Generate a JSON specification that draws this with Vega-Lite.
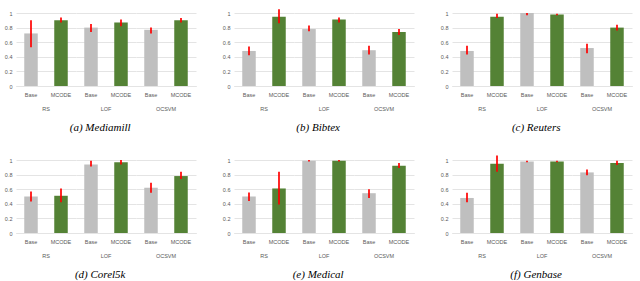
{
  "$schema": "https://vega.github.io/schema/vega-lite/v6.json",
  "padding": {"left": 4, "top": 8, "right": 2, "bottom": 2},
  "background": "white",
  "spacing": 21,
  "datasets": {
    "d": [
      {"ds": "Mediamill", "group": "RS", "method": "Base", "value": 0.72, "lo": 0.53, "hi": 0.90},
      {"ds": "Mediamill", "group": "RS", "method": "MCODE", "value": 0.90, "lo": 0.87, "hi": 0.94},
      {"ds": "Mediamill", "group": "LOF", "method": "Base", "value": 0.80, "lo": 0.74, "hi": 0.85},
      {"ds": "Mediamill", "group": "LOF", "method": "MCODE", "value": 0.87, "lo": 0.82, "hi": 0.91},
      {"ds": "Mediamill", "group": "OCSVM", "method": "Base", "value": 0.77, "lo": 0.72, "hi": 0.80},
      {"ds": "Mediamill", "group": "OCSVM", "method": "MCODE", "value": 0.90, "lo": 0.87, "hi": 0.93},
      {"ds": "Bibtex", "group": "RS", "method": "Base", "value": 0.48, "lo": 0.42, "hi": 0.54},
      {"ds": "Bibtex", "group": "RS", "method": "MCODE", "value": 0.95, "lo": 0.86, "hi": 1.05},
      {"ds": "Bibtex", "group": "LOF", "method": "Base", "value": 0.78, "lo": 0.75, "hi": 0.83},
      {"ds": "Bibtex", "group": "LOF", "method": "MCODE", "value": 0.91, "lo": 0.87, "hi": 0.94},
      {"ds": "Bibtex", "group": "OCSVM", "method": "Base", "value": 0.49, "lo": 0.43, "hi": 0.55},
      {"ds": "Bibtex", "group": "OCSVM", "method": "MCODE", "value": 0.74, "lo": 0.70, "hi": 0.78},
      {"ds": "Reuters", "group": "RS", "method": "Base", "value": 0.48, "lo": 0.43, "hi": 0.55},
      {"ds": "Reuters", "group": "RS", "method": "MCODE", "value": 0.95, "lo": 0.93, "hi": 0.99},
      {"ds": "Reuters", "group": "LOF", "method": "Base", "value": 1.0, "lo": 0.97, "hi": 1.0},
      {"ds": "Reuters", "group": "LOF", "method": "MCODE", "value": 0.98, "lo": 0.97, "hi": 0.99},
      {"ds": "Reuters", "group": "OCSVM", "method": "Base", "value": 0.52, "lo": 0.45, "hi": 0.58},
      {"ds": "Reuters", "group": "OCSVM", "method": "MCODE", "value": 0.80, "lo": 0.76, "hi": 0.84},
      {"ds": "Corel5k", "group": "RS", "method": "Base", "value": 0.50, "lo": 0.43, "hi": 0.57},
      {"ds": "Corel5k", "group": "RS", "method": "MCODE", "value": 0.51, "lo": 0.42, "hi": 0.61},
      {"ds": "Corel5k", "group": "LOF", "method": "Base", "value": 0.94, "lo": 0.91, "hi": 0.99},
      {"ds": "Corel5k", "group": "LOF", "method": "MCODE", "value": 0.97, "lo": 0.94, "hi": 1.0},
      {"ds": "Corel5k", "group": "OCSVM", "method": "Base", "value": 0.62, "lo": 0.55, "hi": 0.69},
      {"ds": "Corel5k", "group": "OCSVM", "method": "MCODE", "value": 0.78, "lo": 0.74, "hi": 0.84},
      {"ds": "Medical", "group": "RS", "method": "Base", "value": 0.50, "lo": 0.44, "hi": 0.555},
      {"ds": "Medical", "group": "RS", "method": "MCODE", "value": 0.61, "lo": 0.39, "hi": 0.84},
      {"ds": "Medical", "group": "LOF", "method": "Base", "value": 0.99, "lo": 0.98, "hi": 1.0},
      {"ds": "Medical", "group": "LOF", "method": "MCODE", "value": 0.99, "lo": 0.98, "hi": 1.0},
      {"ds": "Medical", "group": "OCSVM", "method": "Base", "value": 0.545, "lo": 0.48, "hi": 0.60},
      {"ds": "Medical", "group": "OCSVM", "method": "MCODE", "value": 0.92, "lo": 0.89, "hi": 0.96},
      {"ds": "Genbase", "group": "RS", "method": "Base", "value": 0.48, "lo": 0.42, "hi": 0.55},
      {"ds": "Genbase", "group": "RS", "method": "MCODE", "value": 0.95, "lo": 0.84, "hi": 1.06},
      {"ds": "Genbase", "group": "LOF", "method": "Base", "value": 0.98, "lo": 0.97, "hi": 0.99},
      {"ds": "Genbase", "group": "LOF", "method": "MCODE", "value": 0.98, "lo": 0.97, "hi": 0.99},
      {"ds": "Genbase", "group": "OCSVM", "method": "Base", "value": 0.83, "lo": 0.79, "hi": 0.87},
      {"ds": "Genbase", "group": "OCSVM", "method": "MCODE", "value": 0.96, "lo": 0.93, "hi": 0.99}
    ]
  },
  "config": {
    "view": {"stroke": null},
    "font": "Liberation Sans",
    "title": {"orient": "bottom", "font": "Liberation Serif", "fontSize": 11, "fontWeight": "normal", "fontStyle": "italic", "color": "#000000", "offset": 10, "anchor": "middle"},
    "axis": {"labelFont": "Liberation Sans", "labelFontSize": 5.5, "labelColor": "#595959", "ticks": false, "domain": false, "title": null},
    "axisY": {"tickCount": 5, "gridColor": "#e4e4e4", "labelPadding": 4, "format": "~g"},
    "header": {"labelFont": "Liberation Sans", "labelFontSize": 5.5, "labelColor": "#595959"}
  },
  "vconcat": [
    {
      "spacing": 26,
      "hconcat": [
        {
          "data": {"name": "d"},
          "transform": [{"filter": "datum.ds === 'Mediamill'"}],
          "title": {"text": "(a) Mediamill"},
          "spacing": 0,
          "facet": {"column": {"field": "group", "type": "nominal", "sort": ["RS", "LOF", "OCSVM"], "header": {"title": null, "labelOrient": "bottom", "labelPadding": 9}}},
          "spec": {
            "width": 60, "height": 73,
            "encoding": {"x": {"field": "method", "type": "nominal", "sort": ["Base", "MCODE"], "scale": {"paddingInner": 0, "paddingOuter": 0}, "axis": {"labelAngle": 0, "labelPadding": 6, "domain": true, "domainColor": "#d9d9d9"}}},
            "layer": [
              {"mark": {"type": "bar", "width": {"band": 0.45}}, "encoding": {"y": {"field": "value", "type": "quantitative", "scale": {"domain": [0, 1]}}, "color": {"field": "method", "type": "nominal", "scale": {"domain": ["Base", "MCODE"], "range": ["#bfbfbf", "#548235"]}, "legend": null}}},
              {"mark": {"type": "rule", "color": "#ff0000", "strokeWidth": 1.7}, "encoding": {"y": {"field": "lo", "type": "quantitative"}, "y2": {"field": "hi"}}}
            ]
          }
        },
        {
          "data": {"name": "d"},
          "transform": [{"filter": "datum.ds === 'Bibtex'"}],
          "title": {"text": "(b) Bibtex"},
          "spacing": 0,
          "facet": {"column": {"field": "group", "type": "nominal", "sort": ["RS", "LOF", "OCSVM"], "header": {"title": null, "labelOrient": "bottom", "labelPadding": 9}}},
          "spec": {
            "width": 60, "height": 73,
            "encoding": {"x": {"field": "method", "type": "nominal", "sort": ["Base", "MCODE"], "scale": {"paddingInner": 0, "paddingOuter": 0}, "axis": {"labelAngle": 0, "labelPadding": 6, "domain": true, "domainColor": "#d9d9d9"}}},
            "layer": [
              {"mark": {"type": "bar", "width": {"band": 0.45}}, "encoding": {"y": {"field": "value", "type": "quantitative", "scale": {"domain": [0, 1]}}, "color": {"field": "method", "type": "nominal", "scale": {"domain": ["Base", "MCODE"], "range": ["#bfbfbf", "#548235"]}, "legend": null}}},
              {"mark": {"type": "rule", "color": "#ff0000", "strokeWidth": 1.7}, "encoding": {"y": {"field": "lo", "type": "quantitative"}, "y2": {"field": "hi"}}}
            ]
          }
        },
        {
          "data": {"name": "d"},
          "transform": [{"filter": "datum.ds === 'Reuters'"}],
          "title": {"text": "(c) Reuters"},
          "spacing": 0,
          "facet": {"column": {"field": "group", "type": "nominal", "sort": ["RS", "LOF", "OCSVM"], "header": {"title": null, "labelOrient": "bottom", "labelPadding": 9}}},
          "spec": {
            "width": 60, "height": 73,
            "encoding": {"x": {"field": "method", "type": "nominal", "sort": ["Base", "MCODE"], "scale": {"paddingInner": 0, "paddingOuter": 0}, "axis": {"labelAngle": 0, "labelPadding": 6, "domain": true, "domainColor": "#d9d9d9"}}},
            "layer": [
              {"mark": {"type": "bar", "width": {"band": 0.45}}, "encoding": {"y": {"field": "value", "type": "quantitative", "scale": {"domain": [0, 1]}}, "color": {"field": "method", "type": "nominal", "scale": {"domain": ["Base", "MCODE"], "range": ["#bfbfbf", "#548235"]}, "legend": null}}},
              {"mark": {"type": "rule", "color": "#ff0000", "strokeWidth": 1.7}, "encoding": {"y": {"field": "lo", "type": "quantitative"}, "y2": {"field": "hi"}}}
            ]
          }
        }
      ]
    },
    {
      "spacing": 26,
      "hconcat": [
        {
          "data": {"name": "d"},
          "transform": [{"filter": "datum.ds === 'Corel5k'"}],
          "title": {"text": "(d) Corel5k"},
          "spacing": 0,
          "facet": {"column": {"field": "group", "type": "nominal", "sort": ["RS", "LOF", "OCSVM"], "header": {"title": null, "labelOrient": "bottom", "labelPadding": 9}}},
          "spec": {
            "width": 60, "height": 73,
            "encoding": {"x": {"field": "method", "type": "nominal", "sort": ["Base", "MCODE"], "scale": {"paddingInner": 0, "paddingOuter": 0}, "axis": {"labelAngle": 0, "labelPadding": 6, "domain": true, "domainColor": "#d9d9d9"}}},
            "layer": [
              {"mark": {"type": "bar", "width": {"band": 0.45}}, "encoding": {"y": {"field": "value", "type": "quantitative", "scale": {"domain": [0, 1]}}, "color": {"field": "method", "type": "nominal", "scale": {"domain": ["Base", "MCODE"], "range": ["#bfbfbf", "#548235"]}, "legend": null}}},
              {"mark": {"type": "rule", "color": "#ff0000", "strokeWidth": 1.7}, "encoding": {"y": {"field": "lo", "type": "quantitative"}, "y2": {"field": "hi"}}}
            ]
          }
        },
        {
          "data": {"name": "d"},
          "transform": [{"filter": "datum.ds === 'Medical'"}],
          "title": {"text": "(e) Medical"},
          "spacing": 0,
          "facet": {"column": {"field": "group", "type": "nominal", "sort": ["RS", "LOF", "OCSVM"], "header": {"title": null, "labelOrient": "bottom", "labelPadding": 9}}},
          "spec": {
            "width": 60, "height": 73,
            "encoding": {"x": {"field": "method", "type": "nominal", "sort": ["Base", "MCODE"], "scale": {"paddingInner": 0, "paddingOuter": 0}, "axis": {"labelAngle": 0, "labelPadding": 6, "domain": true, "domainColor": "#d9d9d9"}}},
            "layer": [
              {"mark": {"type": "bar", "width": {"band": 0.45}}, "encoding": {"y": {"field": "value", "type": "quantitative", "scale": {"domain": [0, 1]}}, "color": {"field": "method", "type": "nominal", "scale": {"domain": ["Base", "MCODE"], "range": ["#bfbfbf", "#548235"]}, "legend": null}}},
              {"mark": {"type": "rule", "color": "#ff0000", "strokeWidth": 1.7}, "encoding": {"y": {"field": "lo", "type": "quantitative"}, "y2": {"field": "hi"}}}
            ]
          }
        },
        {
          "data": {"name": "d"},
          "transform": [{"filter": "datum.ds === 'Genbase'"}],
          "title": {"text": "(f) Genbase"},
          "spacing": 0,
          "facet": {"column": {"field": "group", "type": "nominal", "sort": ["RS", "LOF", "OCSVM"], "header": {"title": null, "labelOrient": "bottom", "labelPadding": 9}}},
          "spec": {
            "width": 60, "height": 73,
            "encoding": {"x": {"field": "method", "type": "nominal", "sort": ["Base", "MCODE"], "scale": {"paddingInner": 0, "paddingOuter": 0}, "axis": {"labelAngle": 0, "labelPadding": 6, "domain": true, "domainColor": "#d9d9d9"}}},
            "layer": [
              {"mark": {"type": "bar", "width": {"band": 0.45}}, "encoding": {"y": {"field": "value", "type": "quantitative", "scale": {"domain": [0, 1]}}, "color": {"field": "method", "type": "nominal", "scale": {"domain": ["Base", "MCODE"], "range": ["#bfbfbf", "#548235"]}, "legend": null}}},
              {"mark": {"type": "rule", "color": "#ff0000", "strokeWidth": 1.7}, "encoding": {"y": {"field": "lo", "type": "quantitative"}, "y2": {"field": "hi"}}}
            ]
          }
        }
      ]
    }
  ]
}
